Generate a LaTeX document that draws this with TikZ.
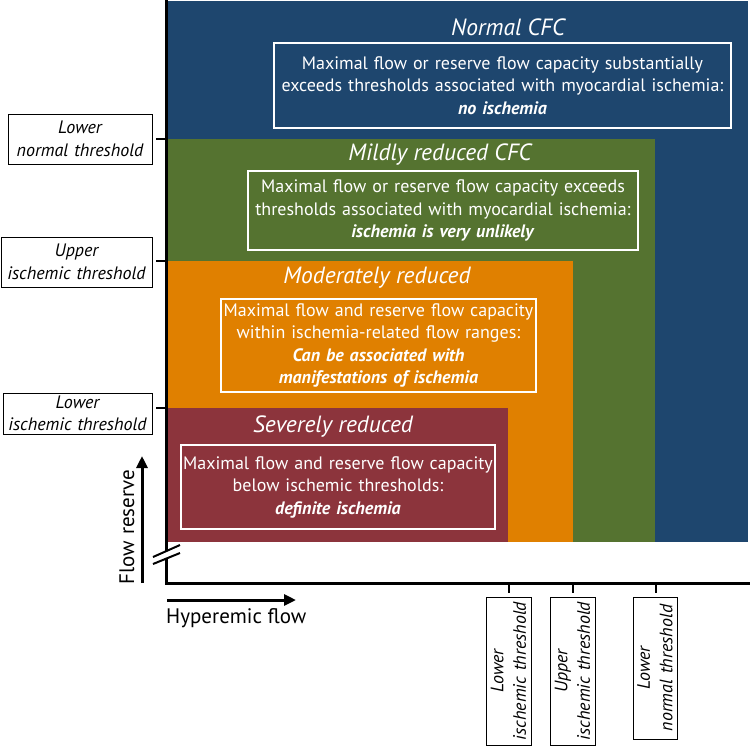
\documentclass[tikz,border=0pt]{standalone}
\usepackage{fontspec}
\setmainfont{PT Sans}
\usetikzlibrary{arrows.meta}
\definecolor{cblue}{RGB}{30,70,110}
\definecolor{cgreen}{RGB}{85,115,48}
\definecolor{corange}{RGB}{224,128,0}
\definecolor{cred}{RGB}{140,52,60}
\tikzset{
  body/.style={text=white, align=center, font=\fontsize{18}{22.5}\selectfont},
  wbox/.style={draw=white, line width=1.2pt, inner xsep=0pt, inner ysep=0pt, body},
  ttl/.style={text=white, inner sep=0pt, font=\fontsize{23.5}{27}\selectfont\itshape},
  lbl/.style={draw=black, line width=1pt, fill=white, inner xsep=0pt, inner ysep=0pt, align=center, font=\fontsize{18}{22.5}\selectfont\itshape},
  axisline/.style={line width=3pt, black},
  tickline/.style={line width=2.5pt, black},
  bigarrow/.style={line width=3pt, -{Triangle[length=12pt,width=11pt]}},
  axlabel/.style={inner sep=0pt, font=\fontsize{21}{24}\selectfont},
}
\begin{document}
\begin{tikzpicture}[x=1pt,y=-1pt]
\useasboundingbox (0,0) rectangle (750,748);
% regions
\fill[cblue]   (168,1)   rectangle (748,542);
\fill[cgreen]  (168,139) rectangle (655,542);
\fill[corange] (168,261) rectangle (573,542);
\fill[cred]    (168,408) rectangle (508,542);
% titles
\node[ttl] (tn) at (508,27)  {Normal CFC};
\node[ttl] (tm) at (440,155) {Mildly reduced CFC};
\node[ttl] (to) at (377,278) {Moderately reduced};
\node[ttl] (ts) at (333,427) {Severely reduced};
% text boxes
\node[wbox, text width=457pt, minimum height=85pt] (bn) at (502.5,85.5)
 {Maximal flow or reserve flow capacity substantially\\exceeds thresholds associated with myocardial ischemia:\\\textbf{\itshape no ischemia}};
\node[wbox, text width=390pt, minimum height=79pt] (bm) at (443,210.5)
 {Maximal flow or reserve flow capacity exceeds\\thresholds associated with myocardial ischemia:\\\textbf{\itshape ischemia is very unlikely}};
\node[wbox, text width=315pt, minimum height=93pt] (bo) at (378.5,345.5)
 {Maximal flow and reserve flow capacity\\within ischemia-related flow ranges:\\\textbf{\itshape Can be associated with}\\\textbf{\itshape manifestations of ischemia}};
\node[wbox, text width=314pt, minimum height=84pt] (bs) at (338,487)
 {Maximal flow and reserve flow capacity\\below ischemic thresholds:\\\textbf{\itshape definite ischemia}};
% axes
\coordinate (ytop) at (166,0);
\coordinate (orig) at (166,583);
\coordinate (xend) at (750,583);
\draw[axisline] (ytop) -- (orig) -- (xend);
% axis break
\fill[white] (153,557) -- (180,545) -- (180,553) -- (153,564) -- cycle;
\draw[line width=2pt] (153,557) -- (180,545);
\draw[line width=2pt] (153,564) -- (180,553);
% left threshold labels
\node[lbl, text width=144pt, minimum height=50pt] (ln) at (80,139) {Lower\\normal threshold};
\node[lbl, text width=151pt, minimum height=50pt] (ui) at (76.5,262) {Upper\\ischemic threshold};
\node[lbl, text width=149pt, minimum height=41pt] (li) at (77.5,413.5) {Lower\\ischemic threshold};
\coordinate (ty1) at (166,139);
\coordinate (ty2) at (166,261);
\coordinate (ty3) at (166,408);
\draw[tickline, shorten >=3pt] (ty1) -- (ty1 -| ln.east);
\draw[tickline, shorten >=3pt] (ty2) -- (ty2 -| ui.east);
\draw[tickline, shorten >=3pt] (ty3) -- (ty3 -| li.east);
% bottom threshold labels
\node[lbl, rotate=90, text width=148pt, minimum height=45pt] (xb1) at (508.5,671) {Lower\\ischemic threshold};
\node[lbl, rotate=90, text width=148pt, minimum height=45pt] (xb2) at (572.5,671) {Upper\\ischemic threshold};
\node[lbl, rotate=90, text width=142pt, minimum height=44pt] (xb3) at (655,668) {Lower\\normal threshold};
\coordinate (tx1) at (509,583);
\coordinate (tx2) at (573,583);
\coordinate (tx3) at (656,583);
\draw[tickline, shorten >=4pt] (tx1) -- (tx1 |- xb1.east);
\draw[tickline, shorten >=4pt] (tx2) -- (tx2 |- xb2.east);
\draw[tickline, shorten >=4pt] (tx3) -- (tx3 |- xb3.east);
% axis arrows and labels
\coordinate (fr0) at (142,583);
\coordinate (fr1) at (142,456);
\draw[bigarrow] (fr0) -- (fr1);
\node[axlabel, rotate=90] (frl) at (127,527) {Flow reserve};
\coordinate (hf0) at (167,600);
\coordinate (hf1) at (296,600);
\draw[bigarrow] (hf0) -- (hf1);
\node[axlabel, anchor=west] (hfl) at (166,618) {Hyperemic flow};
\end{tikzpicture}
\end{document}
